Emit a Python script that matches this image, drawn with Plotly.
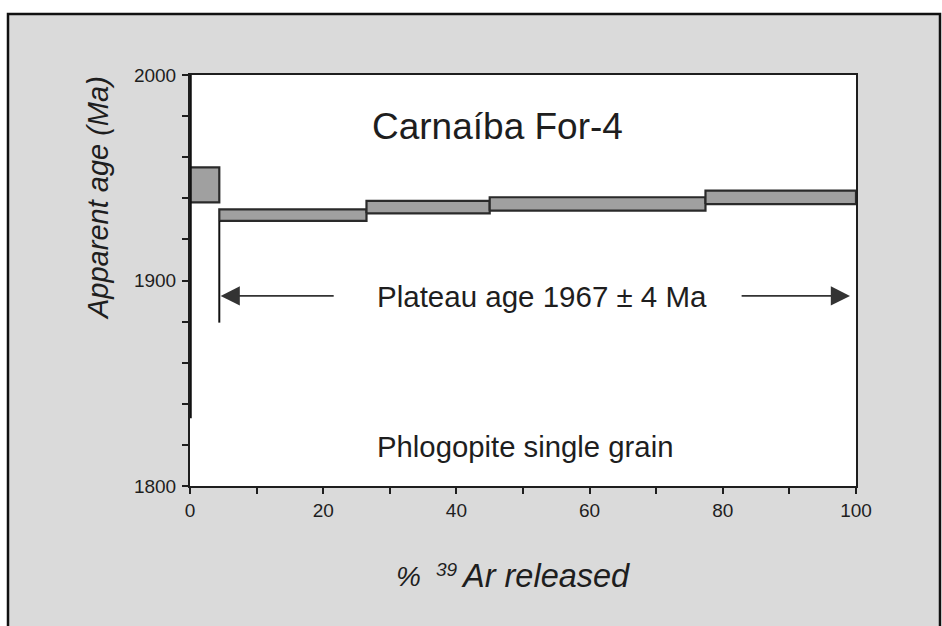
import plotly.graph_objects as go

# ---- data ----
step_start = [0.0, 4.4, 26.5, 45.0, 77.4]           # % 39Ar released (cumulative start)
step_end = [4.4, 26.5, 45.0, 77.4, 100.0]            # % 39Ar released (cumulative end)
age_high = [1955.0, 1934.6, 1938.7, 1940.5, 1943.7]  # Ma, upper error bound
age_low = [1938.0, 1929.0, 1932.7, 1934.0, 1937.2]   # Ma, lower error bound

first_step_x = [0.0, 0.0]
first_step_age = [1833.0, 2000.0]

plateau_start = 4.4
plateau_marker_age = [1929.0, 1879.5]
arrow_age = 1892.5
left_arrow_x = [4.6, 21.8]    # head, tail
right_arrow_x = [99.1, 82.6]  # head, tail

x_ticks = [0, 20, 40, 60, 80, 100]
y_ticks = [1800, 1900, 2000]

title_text = "Carnaíba For-4"
plateau_text = "Plateau age 1967 ± 4 Ma"
mineral_text = "Phlogopite single grain"
x_title_parts = ["%", "39", "Ar released"]
y_title = "Apparent age (Ma)"

FONT = "Liberation Sans, Arial, Helvetica, sans-serif"
INK = "#1e1e1e"

fig = go.Figure()

for x0, x1, lo, hi in zip(step_start, step_end, age_low, age_high):
    fig.add_trace(go.Scatter(
        x=[x0, x1, x1, x0, x0], y=[lo, lo, hi, hi, lo],
        mode="lines", fill="toself", fillcolor="#a0a0a0",
        line=dict(color="#2a2a2a", width=2.2),
        hoverinfo="skip", showlegend=False))

fig.add_trace(go.Scatter(x=first_step_x, y=first_step_age, mode="lines",
                         line=dict(color="#111", width=3.5),
                         hoverinfo="skip", showlegend=False, cliponaxis=False))

fig.add_trace(go.Scatter(x=[plateau_start, plateau_start], y=plateau_marker_age,
                         mode="lines", line=dict(color="#111", width=2),
                         hoverinfo="skip", showlegend=False))

x_left_px, x_right_px, y_top_px, y_bot_px = 190, 856, 75, 486
W = x_right_px - x_left_px
H = y_bot_px - y_top_px
def px(xp):
    return (xp - x_left_px) / W
def py(yp):
    return (y_bot_px - yp) / H

fig.add_shape(type="rect", xref="paper", yref="paper",
              x0=px(8), x1=px(940), y0=py(632), y1=py(14),
              fillcolor="#dadada", line=dict(color="#111", width=2.5), layer="below")
fig.add_shape(type="rect", xref="paper", yref="paper",
              x0=0, x1=1, y0=0, y1=1,
              fillcolor="white", line=dict(width=0), layer="below")

annotations = [
    dict(text=title_text, x=px(497), y=py(127), size=37),
    dict(text=plateau_text, x=px(542), y=py(296), size=29.5),
    dict(text=mineral_text, x=px(525), y=py(446), size=29.3),
    dict(text="<i>" + y_title + "</i>", x=px(98), y=py(198), size=29, angle=-90),
    dict(text="<i>" + x_title_parts[0] + "</i>", x=px(408), y=py(576), size=28),
    dict(text="<i>" + x_title_parts[1] + "</i>", x=px(447), y=py(569), size=19),
    dict(text="<i>" + x_title_parts[2] + "</i>", x=px(459), y=py(576), size=32.5, xanchor="left"),
]
for a in annotations:
    fig.add_annotation(xref="paper", yref="paper", showarrow=False,
                       xanchor=a.get("xanchor", "center"), yanchor="middle",
                       font=dict(family=FONT, color=INK, size=a["size"]),
                       text=a["text"], x=a["x"], y=a["y"],
                       textangle=a.get("angle", 0))

for head, tail in [left_arrow_x, right_arrow_x]:
    fig.add_annotation(x=head, y=arrow_age, ax=tail, ay=arrow_age,
                       xref="x", yref="y", axref="x", ayref="y",
                       text="", showarrow=True, arrowhead=2, arrowsize=2.4,
                       arrowwidth=1.6, arrowcolor="#333", standoff=0)

axis_common = dict(showgrid=False, zeroline=False, showline=True, linecolor=INK,
                   linewidth=2, mirror=True, ticks="outside", ticklen=6, tickwidth=2,
                   tickcolor=INK, tickfont=dict(family=FONT, size=19, color=INK))

fig.update_layout(
    width=942, height=626,
    margin=dict(l=x_left_px, r=942 - x_right_px, t=y_top_px, b=626 - y_bot_px),
    paper_bgcolor="white", plot_bgcolor="white",
    showlegend=False,
    xaxis=dict(range=[0, 100], tickvals=x_ticks, ticktext=[str(v) for v in x_ticks],
               minor=dict(dtick=10, ticks="outside", ticklen=6, tickwidth=2, tickcolor=INK),
               ticklabelstandoff=0, **axis_common),
    yaxis=dict(range=[1800, 2000], tickvals=y_ticks, ticktext=[str(v) for v in y_ticks],
               minor=dict(dtick=20, ticks="outside", ticklen=6, tickwidth=2, tickcolor=INK),
               ticklabelstandoff=2, **axis_common),
)

fig.write_html("out.html", config={"displayModeBar": False},
               post_script="document.body.style.margin='0';document.body.style.overflow='hidden';")
